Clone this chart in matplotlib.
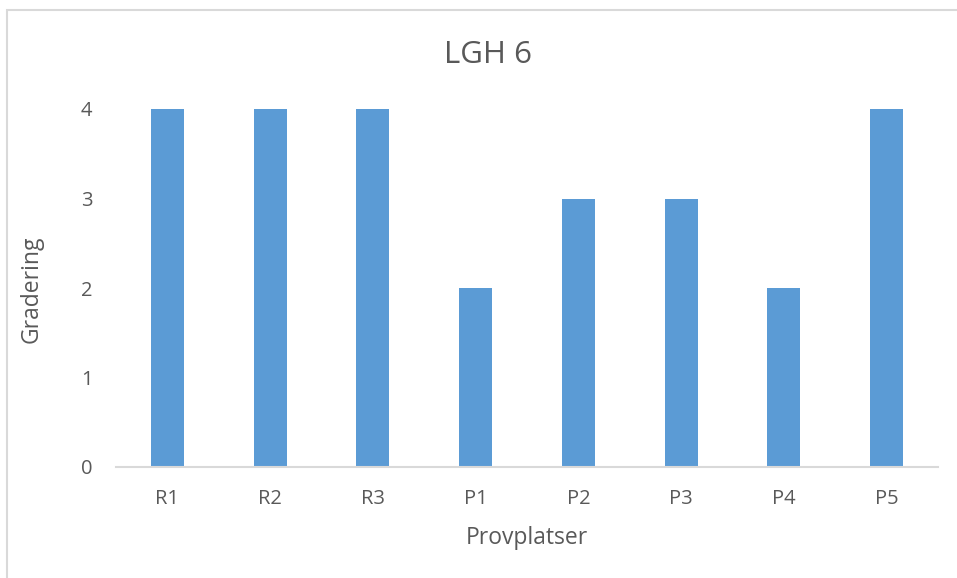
import matplotlib.pyplot as plt
from matplotlib.patches import Rectangle

sites = ["R1", "R2", "R3", "P1", "P2", "P3", "P4", "P5"]
grades = [4, 4, 4, 2, 3, 3, 2, 4]
yticks = [0, 1, 2, 3, 4]

plt.rcParams['font.family'] = ['Open Sans', 'DejaVu Sans']
text_col = '#595959'

fig = plt.figure(figsize=(9.57, 5.78), dpi=100)
ax = fig.add_axes([116 / 957, 1 - 467 / 578, (938 - 116) / 957, (467 - 109) / 578])

ax.bar(range(len(sites)), grades, width=0.32, color='#5b9bd5')
ax.set_xlim(-0.5, len(sites) - 0.5)
ax.set_ylim(0, 4)
ax.set_xticks(range(len(sites)))
ax.set_xticklabels(sites)
ax.set_yticks(yticks)

for side in ['top', 'right', 'left']:
    ax.spines[side].set_visible(False)
ax.spines['bottom'].set_color('#d9d9d9')
ax.spines['bottom'].set_linewidth(1.5)
ax.tick_params(axis='both', length=0, labelsize=14.5, colors=text_col)
ax.tick_params(axis='x', pad=16)
ax.tick_params(axis='y', pad=17)

fig.text(488 / 957, 1 - 55 / 578, "LGH 6", ha='center', va='center',
         fontsize=22.5, color=text_col)
fig.text(32 / 957, 1 - 289 / 578, "Gradering", ha='center', va='center',
         rotation=90, fontsize=16.5, color=text_col)
fig.text(527 / 957, 1 - 538 / 578, "Provplatser", ha='center', va='center',
         fontsize=16.5, color=text_col)

# light chart frame
fig.patches.append(Rectangle((7 / 957, -0.05), 1.1, 1 - 10 / 578 + 0.05,
                             transform=fig.transFigure, fill=False,
                             edgecolor='#d9d9d9', linewidth=1.5))

fig.savefig('out.png', dpi=100)
